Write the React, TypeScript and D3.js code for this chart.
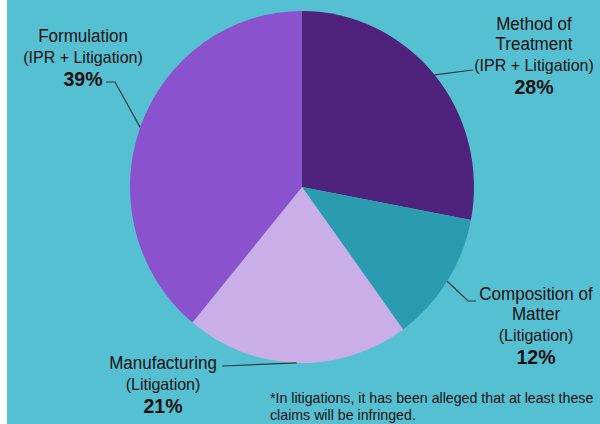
import * as d3 from "d3";
import { useEffect, useRef } from "react";

// slice data, clockwise from 12 o'clock
const categories = ["Method of Treatment", "Composition of Matter", "Manufacturing", "Formulation"];
const shares = [28, 12, 21, 39];
const sources = ["(IPR + Litigation)", "(Litigation)", "(Litigation)", "(IPR + Litigation)"];
const titleLines = [["Method of", "Treatment"], ["Composition of", "Matter"], ["Manufacturing"], ["Formulation"]];
const colors = ["#4f237b", "#2b9caf", "#c9aee8", "#8a52cd"];
const footnote = ["*In litigations, it has been alleged that at least these", "claims will be infringed."];

// label layout: centre x, first baseline, leader elbow
const labelLayout = [
    { x: 534, y: 30, elbow: [473, 70], knee: null },
    { x: 536, y: 300, elbow: [476, 301], knee: [468, 301] },
    { x: 163, y: 369, elbow: [222, 366], knee: null },
    { x: 83, y: 42, elbow: [106, 82], knee: [115, 82] },
];

function App() {
    const svgRef = useRef(null);
    const width = 600;
    const height = 424;
    const cx = 302, cy = 187, rx = 172, ry = 176;
    const stretch = 1.07;

    useEffect(() => {
        const svg = d3.select(svgRef.current);
        svg.selectAll("*").remove();

        svg.append("rect").attr("width", width).attr("height", height).attr("fill", "#fff");
        svg.append("rect").attr("x", 7).attr("width", width - 7).attr("height", height).attr("fill", "#56c0d3");

        const pie = d3.pie<number>().sort(null).value(d => d);
        const arcs = pie(shares);
        const arc = d3.arc<d3.PieArcDatum<number>>().innerRadius(0).outerRadius(rx);

        svg.append("g")
            .attr("transform", `translate(${cx},${cy}) scale(1,${ry / rx})`)
            .selectAll("path")
            .data(arcs)
            .enter().append("path")
            .attr("d", arc)
            .attr("fill", (d, i) => colors[i]);

        const font = "Arial, 'Liberation Sans', sans-serif";
        const label = (g, x, y, size, txt, bold = false) =>
            g.append("text")
                .attr("transform", `translate(${x},${y}) scale(1,${stretch})`)
                .attr("font-size", size)
                .attr("font-weight", bold ? "bold" : null)
                .text(txt);

        arcs.forEach((a, i) => {
            const lay = labelLayout[i];
            const mid = (a.startAngle + a.endAngle) / 2;
            const ex = cx + rx * Math.sin(mid);
            const ey = cy - ry * Math.cos(mid);
            const pts = [lay.elbow];
            if (lay.knee) pts.push(lay.knee);
            pts.push([ex, ey]);
            svg.append("path")
                .attr("d", d3.line()(pts as [number, number][]))
                .attr("fill", "none")
                .attr("stroke", "#2b3a40")
                .attr("stroke-width", 1.2);

            const g = svg.append("g").attr("font-family", font).attr("fill", "#111").attr("text-anchor", "middle");
            let y = lay.y;
            titleLines[i].forEach(t => {
                label(g, lay.x, y, 17, t);
                y += 20;
            });
            y += 1;
            label(g, lay.x, y, 16, sources[i]);
            y += 23;
            label(g, lay.x, y, 19.5, shares[i] + "%", true);
        });

        const fg = svg.append("g").attr("font-family", font).attr("fill", "#111");
        footnote.forEach((t, i) => label(fg, 270, 403 + i * 17, 14.2, t));
    }, []);

    return (
        <svg ref={svgRef} width={width} height={height}
            style={{ position: "absolute", left: 0, top: 0, display: "block" }} />
    );
}

export default App;
